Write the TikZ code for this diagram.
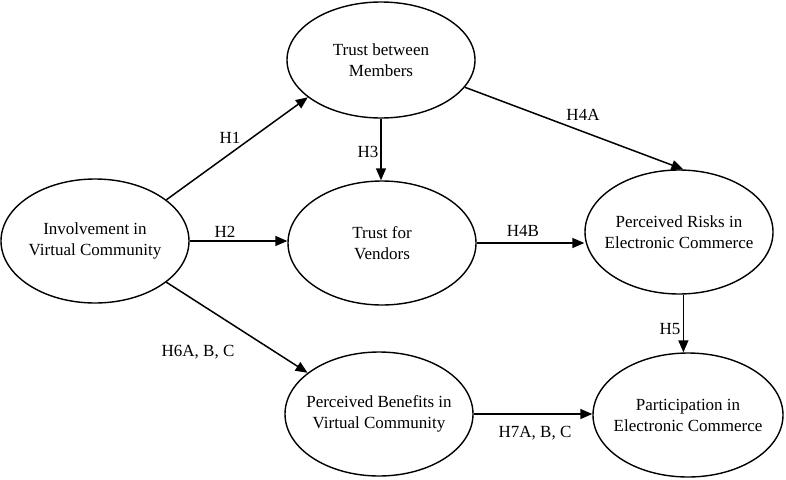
\documentclass[tikz,border=0pt]{standalone}
\usepackage{fontspec}
\setmainfont{Liberation Serif}
\usetikzlibrary{shapes.geometric,arrows.meta}
\tikzset{
	ell/.style={ellipse, draw, line width=1.4pt, minimum width=188pt, minimum height=124pt, inner sep=0pt},
	txt/.style={align=center, font=\fontsize{17}{21}\selectfont, inner sep=0pt},
	pfeil/.style={line width=1.5pt, -{Triangle[length=12pt,width=10pt]}}
}
\begin{document}
\begin{tikzpicture}[x=1pt,y=-1pt]
		\useasboundingbox (0,0) rectangle (786,479);
		%kreise
		\node[ell, label={[txt]center:Involvement in\\Virtual Community}] (inv) at (95,241) {};
		\node[ell, minimum height=116pt, label={[txt]center:Trust between\\Members}] (tbm) at (381,60) {};
		\node[ell, label={[txt]center:Trust for\\Vendors}] (tfv) at (382,243) {};
		\node[ell, label={[txt]center:Perceived Risks in\\Electronic Commerce}] (risk) at (679,232) {};
		\node[ell, label={[txt]center:Perceived Benefits in\\Virtual Community}] (ben) at (379,414) {};
		\node[ell, minimum width=190pt, label={[txt]center:Participation in\\Electronic Commerce}] (part) at (688,415) {};
		%pfeile
		\draw[pfeil] (inv.30) -- (tbm.207);
		\draw[pfeil] (inv.east) -- (inv.east -| tfv.west);
		\draw[pfeil] (tbm.south) -- (tbm.south |- tfv.north);
		\draw[pfeil] (tbm.-18) -- (risk.86);
		\draw[pfeil] (tfv.east) -- (tfv.east -| risk.west);
		\draw[pfeil] (risk.-86) -- (risk.-86 |- part.north);
		\draw[pfeil] (inv.-30) -- (ben.150);
		\draw[pfeil] (ben.east) -- (ben.east -| part.west);
		%beschriftung
		\node[txt] (h1) at (230,138) {H1};
		\node[txt] (h2) at (225,232) {H2};
		\node[txt] (h3) at (368,152) {H3};
		\node[txt] (h4a) at (583,115) {H4A};
		\node[txt] (h4b) at (523,231) {H4B};
		\node[txt] (h5) at (670,329) {H5};
		\node[txt] (h6) at (198,352) {H6A, B, C};
		\node[txt] (h7) at (535,433) {H7A, B, C};
	\end{tikzpicture}
\end{document}
